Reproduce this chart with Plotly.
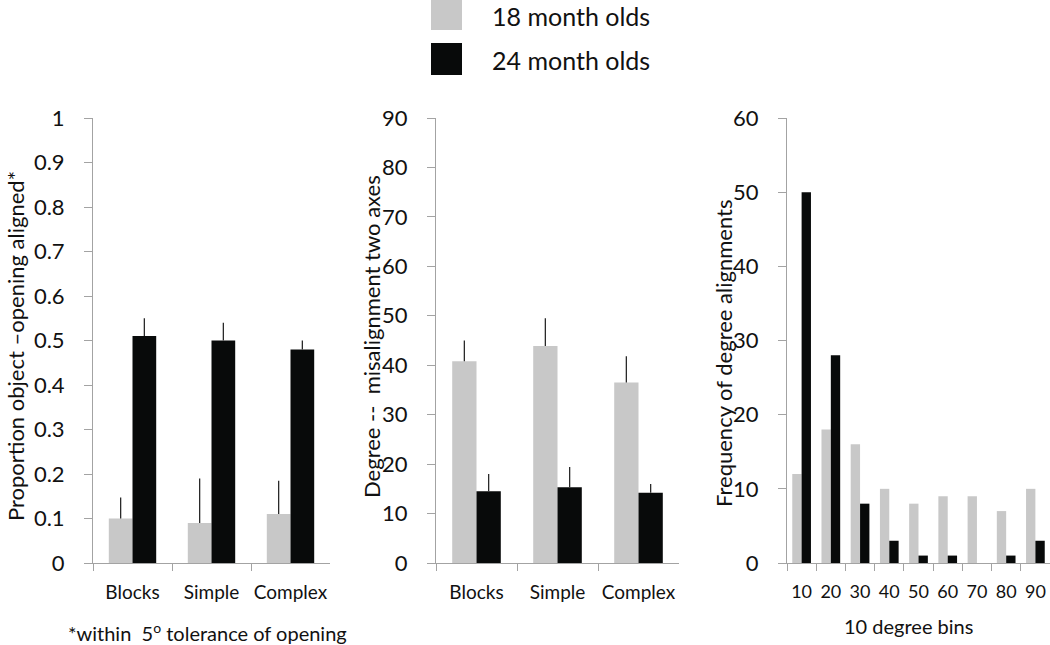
import plotly.graph_objects as go

# ---- data ----
conditions = ["Blocks", "Simple", "Complex"]

prop_18 = [0.10, 0.09, 0.11]
prop_18_err = [0.047, 0.10, 0.075]
prop_24 = [0.51, 0.50, 0.48]
prop_24_err = [0.04, 0.04, 0.02]

deg_18 = [40.8, 43.9, 36.5]
deg_18_err = [4.2, 5.6, 5.3]
deg_24 = [14.5, 15.3, 14.2]
deg_24_err = [3.5, 4.1, 1.8]

bins = ["10", "20", "30", "40", "50", "60", "70", "80", "90"]
freq_18 = [12, 18, 16, 10, 8, 9, 9, 7, 10]
freq_24 = [50, 28, 8, 3, 1, 1, 0, 1, 3]

series_names = ["18 month olds", "24 month olds"]
y_titles = ["Proportion object \u2013opening aligned*",
            "Degree --  misalignment two axes",
            "Frequency of degree alignments"]

# ---- style ----
GRAY = "#c8c8c8"
BLACK = "#080a0a"
AXIS = "#a3a3a3"
ERR = "#2a2a2a"
TXT = "#111111"
FONT = "Lato"
W, H = 1050, 645


def px(x):
    return x / W


def py(y):
    return (H - y) / H


Y_TOP, Y_BOT = 118, 563

fig = go.Figure()


def err(arr):
    return dict(type="data", symmetric=False, array=arr, arrayminus=[0] * len(arr),
                width=0, thickness=1.3, color=ERR)


def add_pair(xa, ya, cats, v18, v24, e18=None, e24=None, w=0.3):
    fig.add_trace(go.Bar(x=cats, y=v18, name=series_names[0], marker_color=GRAY,
                         marker_line_width=0, width=w, offset=-w, xaxis=xa, yaxis=ya,
                         error_y=err(e18) if e18 else None, showlegend=False))
    fig.add_trace(go.Bar(x=cats, y=v24, name=series_names[1], marker_color=BLACK,
                         marker_line_width=0, width=w, offset=0, xaxis=xa, yaxis=ya,
                         error_y=err(e24) if e24 else None, showlegend=False))


add_pair("x", "y", conditions, prop_18, prop_24, prop_18_err, prop_24_err, 0.3)
add_pair("x2", "y2", conditions, deg_18, deg_24, deg_18_err, deg_24_err, 0.3)
add_pair("x3", "y3", bins, freq_18, freq_24, None, None, 0.32)

ydom = [py(Y_BOT), py(Y_TOP)]


def xaxis(dom, anchor, size):
    return dict(domain=dom, anchor=anchor, type="category", showline=True,
                linecolor=AXIS, linewidth=1, ticks="outside", tickson="boundaries",
                ticklen=7, tickcolor=AXIS, showgrid=False, zeroline=False,
                automargin=False, ticklabelstandoff=12, tickangle=0,
                tickfont=dict(size=size, color=TXT, family=FONT))


def yaxis(anchor, rng, dtick):
    return dict(domain=ydom, anchor=anchor, range=rng, dtick=dtick, showline=True,
                linecolor=AXIS, linewidth=1, ticks="outside", ticklen=8, tickcolor=AXIS,
                showgrid=False, zeroline=False, automargin=False,
                tickfont=dict(size=22, color=TXT, family=FONT),
                ticklabelstandoff=15)


fig.update_layout(
    width=W, height=H, margin=dict(l=0, r=0, t=0, b=0, autoexpand=False),
    paper_bgcolor="white", plot_bgcolor="white",
    font=dict(family=FONT, color=TXT),
    barmode="overlay",
    showlegend=False,
    xaxis=xaxis([px(93), px(330)], "y", 19),
    xaxis2=xaxis([px(436), px(679)], "y2", 19),
    xaxis3=xaxis([px(787), px(1050)], "y3", 18),
    yaxis=yaxis("x", [0, 1], 0.1),
    yaxis2=yaxis("x2", [0, 90], 10),
    yaxis3=yaxis("x3", [0, 60], 10),
)

# y-axis titles (rotated)
for txt, cx, cy in zip(y_titles, [15, 372, 723], [346, 337, 354]):
    fig.add_annotation(xref="paper", yref="paper", x=px(cx), y=py(cy),
                       text=txt, textangle=-90, showarrow=False,
                       xanchor="center", yanchor="middle",
                       font=dict(size=22, color=TXT, family=FONT))

# legend drawn as squares + labels
for (y0, y1, col, txt, ty) in [(0, 30, GRAY, series_names[0], 16),
                               (43, 75, BLACK, series_names[1], 60)]:
    fig.add_shape(type="rect", xref="paper", yref="paper",
                  x0=px(431), x1=px(462), y0=py(y1), y1=py(y0),
                  fillcolor=col, line_width=0)
    fig.add_annotation(xref="paper", yref="paper", x=px(490), y=py(ty),
                       text=txt, showarrow=False, xanchor="left", yanchor="middle",
                       font=dict(size=25, color=TXT, family=FONT))

fig.add_annotation(xref="paper", yref="paper", x=px(207), y=py(632),
                   text="*within  5<sup>o</sup> tolerance of opening", showarrow=False,
                   xanchor="center", yanchor="middle",
                   font=dict(size=20, color=TXT, family=FONT))
fig.add_annotation(xref="paper", yref="paper", x=px(908), y=py(626),
                   text="10 degree bins", showarrow=False,
                   xanchor="center", yanchor="middle",
                   font=dict(size=20, color=TXT, family=FONT))

# place the figure flush with the window's corner (no default page margin)
fig.write_html("out.html",
               config={"displayModeBar": False},
               post_script="document.body.style.margin='0';document.body.style.overflow='hidden';")
